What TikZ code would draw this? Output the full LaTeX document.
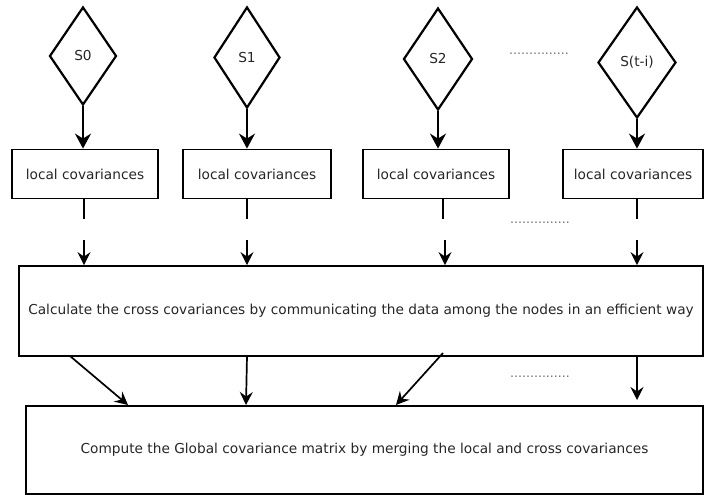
\documentclass[tikz,border=0pt]{standalone}
\usepackage{fontspec}
\setmainfont{DejaVu Sans}
\usetikzlibrary{shapes.geometric,arrows.meta}
\begin{document}
\begin{tikzpicture}[x=1pt,y=-1pt,
  font=\fontsize{13.7}{16}\selectfont,
  src/.style={draw,line width=2.2pt,diamond,inner sep=0pt,text=black!85},
  lbox/.style={draw,line width=1.8pt,rectangle,inner sep=0pt,text=black!85},
  bigbox/.style={draw,line width=1.8pt,rectangle,inner sep=0pt,text=black!85},
  thickarr/.style={line width=2.8pt,-{Stealth[length=15pt,width=16pt,inset=5pt]}},
  arr/.style={line width=1.7pt,-{Stealth[length=13pt,width=13pt,inset=4.5pt]}},
  stub/.style={line width=1.7pt},
  dots/.style={text=black!55,font=\fontsize{12.5}{14}\selectfont}]
\useasboundingbox (0,0) rectangle (704,495);
% diamonds
\node[src,minimum width=67pt,minimum height=98pt] (s0) at (83,56) {S0};
\node[src,minimum width=66pt,minimum height=101pt] (s1) at (247,57.5) {S1};
\node[src,minimum width=69pt,minimum height=102pt] (s2) at (438,59) {S2};
\node[src,minimum width=78pt,minimum height=111pt] (s3) at (637,62.5) {S(t-i)};
% local boxes
\node[lbox,minimum width=146pt,minimum height=49pt] (b0) at (85,174) {local covariances};
\node[lbox,minimum width=148pt,minimum height=49pt] (b1) at (257,174) {local covariances};
\node[lbox,minimum width=146pt,minimum height=49pt] (b2) at (436,174) {local covariances};
\node[lbox,minimum width=140pt,minimum height=49pt] (b3) at (633,174) {local covariances};
% big boxes
\node[bigbox,minimum width=684pt,minimum height=90pt] (cross) at (361,311) {Calculate the cross covariances by communicating the data among the nodes in an efficient way};
\node[bigbox,minimum width=677pt,minimum height=88pt] (glob) at (364.5,450) {Compute the Global covariance matrix by merging the local and cross covariances};
% dots
\node[dots] (d1) at (539,54) {...............};
\node[dots] (d2) at (540,223) {...............};
\node[dots] (d3) at (540,377) {...............};
% diamond to box arrows
\draw[thickarr] (s0.south) -- (s0.south |- b0.north);
\draw[thickarr] (s1.south) -- (s1.south |- b1.north);
\draw[thickarr] (s2.south) -- (s2.south |- b2.north);
\draw[thickarr] (s3.south) -- (s3.south |- b3.north);
% stubs below local boxes
\coordinate (e0) at (84,219);
\coordinate (e1) at (247,219);
\coordinate (e2) at (443,219);
\coordinate (e3) at (637,219);
\coordinate (f0) at (84,240);
\coordinate (f1) at (247,240);
\coordinate (f2) at (445,240);
\coordinate (f3) at (637,240);
\draw[stub] (e0 |- b0.south) -- (e0);
\draw[stub] (e1 |- b1.south) -- (e1);
\draw[stub] (e2 |- b2.south) -- (e2);
\draw[stub] (e3 |- b3.south) -- (e3);
\draw[arr] (f0) -- (f0 |- cross.north);
\draw[arr] (f1) -- (f1 |- cross.north);
\draw[arr] (f2) -- (f2 |- cross.north);
\draw[arr] (f3) -- (f3 |- cross.north);
% cross to global
\coordinate (g0) at (70,356);
\coordinate (h0) at (128,405);
\coordinate (g1) at (247,356);
\coordinate (h1) at (246,405);
\coordinate (g2) at (443,353);
\coordinate (h2) at (396,405);
\coordinate (g3) at (637,356);
\coordinate (h3) at (637,400);
\draw[arr] (g0) -- (h0);
\draw[arr] (g1) -- (h1);
\draw[arr] (g2) -- (h2);
\draw[arr] (g3) -- (h3);
\end{tikzpicture}
\end{document}
